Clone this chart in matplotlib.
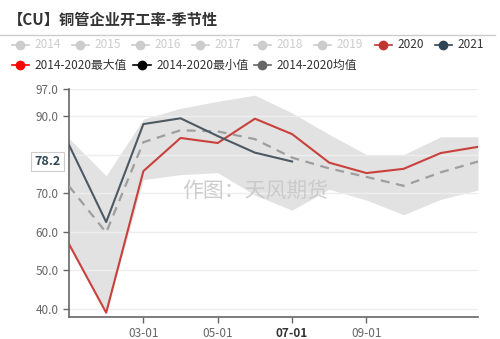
import matplotlib
matplotlib.use("Agg")
import matplotlib.pyplot as plt
from matplotlib.lines import Line2D

plt.rcParams["font.family"] = ["Noto Sans CJK SC", "DejaVu Sans"]

# ---------------------------------------
# DATA
# ---------------------------------------
months = [1, 2, 3, 4, 5, 6, 7, 8, 9, 10, 11, 12]
tick_months = [3, 5, 7, 9]
tick_labels = ["03-01", "05-01", "07-01", "09-01"]

y2020 = [56.8, 39.0, 75.7, 84.3, 83.0, 89.3, 85.3, 77.9, 75.2, 76.3, 80.4, 82.0]
y2021 = [82.5, 62.5, 87.9, 89.4, 84.8, 80.5, 78.2]
avg_14_20 = [71.8, 59.8, 83.2, 86.3, 86.0, 84.0, 79.2, 76.4, 74.2, 71.9, 75.4, 78.2]
max_14_20 = [84.2, 74.5, 89.2, 92.0, 93.8, 95.4, 90.8, 85.2, 80.0, 80.0, 84.6, 84.6]
min_14_20 = [56.8, 39.0, 73.5, 74.8, 75.3, 69.5, 65.6, 71.0, 68.2, 64.4, 68.4, 70.8]

y_ticks = [40, 50, 60, 70, 90, 97]
latest = 78.2

legend_row1 = ["2014", "2015", "2016", "2017", "2018", "2019", "2020", "2021"]
legend_row2 = ["2014-2020最大值", "2014-2020最小值", "2014-2020均值"]

RED = "#c23531"
NAVY = "#2f4554"

# ---------------------------------------
# FIGURE
# ---------------------------------------
fig = plt.figure(figsize=(5, 3.39), dpi=100)
ax = fig.add_axes([0.138, 0.065, 0.818, 0.6725])

ax.fill_between(months, min_14_20, max_14_20, color="#e2e2e2", lw=0, zorder=1)
for v in [40, 50, 60, 70, 80, 90, 97]:
    ax.axhline(v, color="#eeeeee", lw=1, zorder=1.5)

ax.plot(months, avg_14_20, color="#9e9e9e", lw=1.6, ls=(0, (4, 3)), zorder=3)
ax.plot(months, y2020, color="#c8413d", lw=1.5, zorder=4)
ax.plot(months[:len(y2021)], y2021, color="#4d5963", lw=1.5, zorder=5)

ax.set_xlim(1, 12)
ax.set_ylim(37.9, 97)
ax.set_yticks(y_ticks)
ax.set_yticklabels([f"{v:.1f}" for v in y_ticks])
ax.set_xticks(tick_months)
ax.set_xticklabels(tick_labels)
ax.tick_params(axis="both", colors="#666666", labelsize=8.5, length=4, width=1)
ax.tick_params(axis="x", pad=3)
for lab in ax.get_xticklabels():
    if lab.get_text() == "07-01":
        lab.set_fontweight("bold")
        lab.set_color("#333333")

for s in ["top", "right"]:
    ax.spines[s].set_visible(False)
for s in ["left", "bottom"]:
    ax.spines[s].set_color("#666666")
    ax.spines[s].set_linewidth(1.2)

# latest value label on the y axis
ax.annotate(f"{latest}", xy=(0, latest), xycoords=("axes fraction", "data"),
            xytext=(-6, 0), textcoords="offset points", ha="right", va="center",
            fontsize=9, fontweight="bold", color=NAVY,
            bbox=dict(boxstyle="square,pad=0.25", fc="white", ec="#cccccc", lw=0.8))

# watermark
ax.text(0.455, 0.555, "作图：天风期货", transform=ax.transAxes, ha="center", va="center",
        fontsize=15, color="#c8c8c8", alpha=0.9, zorder=6)

# title and separator
fig.text(0.016, 0.94, "【CU】铜管企业开工率-季节性", fontsize=11, fontweight="bold",
         color="#333333", ha="left", va="center")
fig.add_artist(Line2D([0.0, 0.99], [0.897, 0.897], color="#cccccc", lw=1))

# legend (drawn manually to match the two-row layout)
def legend_item(x_px, y_px, label, mcolor, tcolor):
    xf, yf = x_px / 500, 1 - y_px / 339
    fig.add_artist(Line2D([xf - 0.017, xf + 0.017], [yf, yf], color=mcolor, lw=1.2))
    fig.add_artist(Line2D([xf], [yf], marker="o", ms=6, color=mcolor, mec=mcolor))
    fig.text(xf + 0.028, yf, label, fontsize=8.5, color=tcolor, ha="left", va="center")

row1_x = [20, 80, 140, 200, 262, 322, 383, 443]
for x, lab in zip(row1_x, legend_row1):
    if lab == "2020":
        legend_item(x, 45, lab, RED, "#333333")
    elif lab == "2021":
        legend_item(x, 45, lab, NAVY, "#333333")
    else:
        legend_item(x, 45, lab, "#cccccc", "#cccccc")

row2_x = [20, 142, 262]
row2_col = ["#ff0000", "#000000", "#666666"]
for x, lab, c in zip(row2_x, legend_row2, row2_col):
    legend_item(x, 65, lab, c, "#333333")

fig.savefig("out.png", dpi=100)
